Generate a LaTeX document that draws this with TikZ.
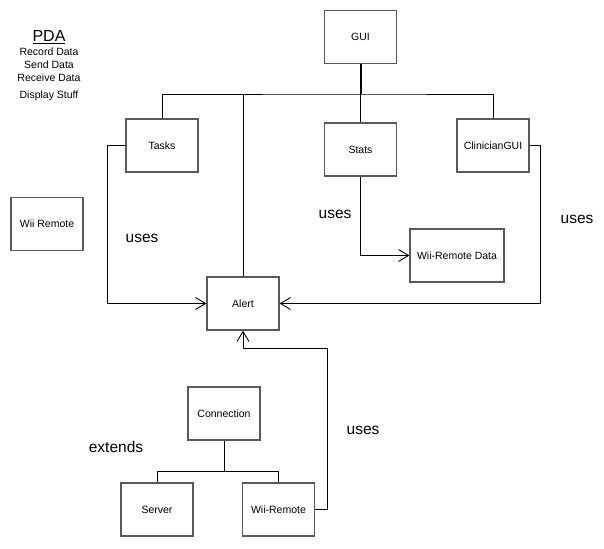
\documentclass[tikz,border=0pt]{standalone}
\usepackage{fontspec}
\setmainfont{Liberation Sans}
\usetikzlibrary{arrows.meta}
\begin{document}
\begin{tikzpicture}[x=1pt,y=-1pt,
  box/.style={draw=black!65, line width=1.2pt, fill=white, inner sep=0pt, font=\fontsize{10.5}{12}\selectfont, minimum width=72pt, minimum height=53pt},
  conn/.style={draw=black, line width=0.9pt},
  uarrow/.style={conn, -{Straight Barb[length=10pt,width=12pt,line width=0.9pt]}},
  lbl/.style={font=\fontsize{15.5}{18}\selectfont, inner sep=0pt},
  small/.style={font=\fontsize{10.5}{12}\selectfont, inner sep=0pt}]
\useasboundingbox (0,0) rectangle (604,548);
% boxes
\node[box] (gui) at (360.5,37) {GUI};
\node[box] (tasks) at (162,145.5) {Tasks};
\node[box] (stats) at (360.5,149.5) {Stats};
\node[box] (clin) at (493,145.5) {ClinicianGUI};
\node[box] (wii) at (47,224) {Wii Remote};
\node[box, minimum width=94pt] (wrd) at (457,255.5) {Wii-Remote Data};
\node[box] (alert) at (243,303.5) {Alert};
\node[box] (conn) at (224,413.5) {Connection};
\node[box] (server) at (157,509.5) {Server};
\node[box] (wiir) at (278.5,509.5) {Wii-Remote};
% PDA text
\node[font=\fontsize{16}{18}\selectfont, inner sep=0pt] (pda) at (49,37) {\underline{PDA}};
\node[small] (t1) at (49,52) {Record Data};
\node[small] (t2) at (49,65) {Send Data};
\node[small] (t3) at (49,78) {Receive Data};
\node[small] (t4) at (49,96) {Display Stuff};
% labels
\node[lbl] (u1) at (142,238) {uses};
\node[lbl] (u2) at (335,214) {uses};
\node[lbl] (u3) at (577,219) {uses};
\node[lbl] (u4) at (363,430) {uses};
\node[lbl] (ext) at (116,447) {extends};
% coordinates
\coordinate (bus) at (360.5,94);
\coordinate (tl) at (107,145.5);
\coordinate (cr) at (540,145.5);
\coordinate (wr1) at (327,348);
\coordinate (cj) at (224,471);
% connectors
\draw[line width=2pt] (gui.south) -- (bus);
\draw[conn] (tasks.north) |- (bus) -| (clin.north);
\draw[conn] (bus) -- (stats.north);
\draw[conn] (alert.north) -- (alert.north |- bus);
\draw[uarrow] (tasks.west) -- (tl) |- (alert.west);
\draw[uarrow] (clin.east) -- (cr) |- (alert.east);
\draw[uarrow] (stats.south) |- (wrd.west);
\draw[uarrow] (wiir.east) -| (wr1) -| (alert.south);
\draw[conn] (conn.south) -- (cj);
\draw[conn] (cj) -| (server.north);
\draw[conn] (cj) -| (wiir.north);
\end{tikzpicture}
\end{document}
